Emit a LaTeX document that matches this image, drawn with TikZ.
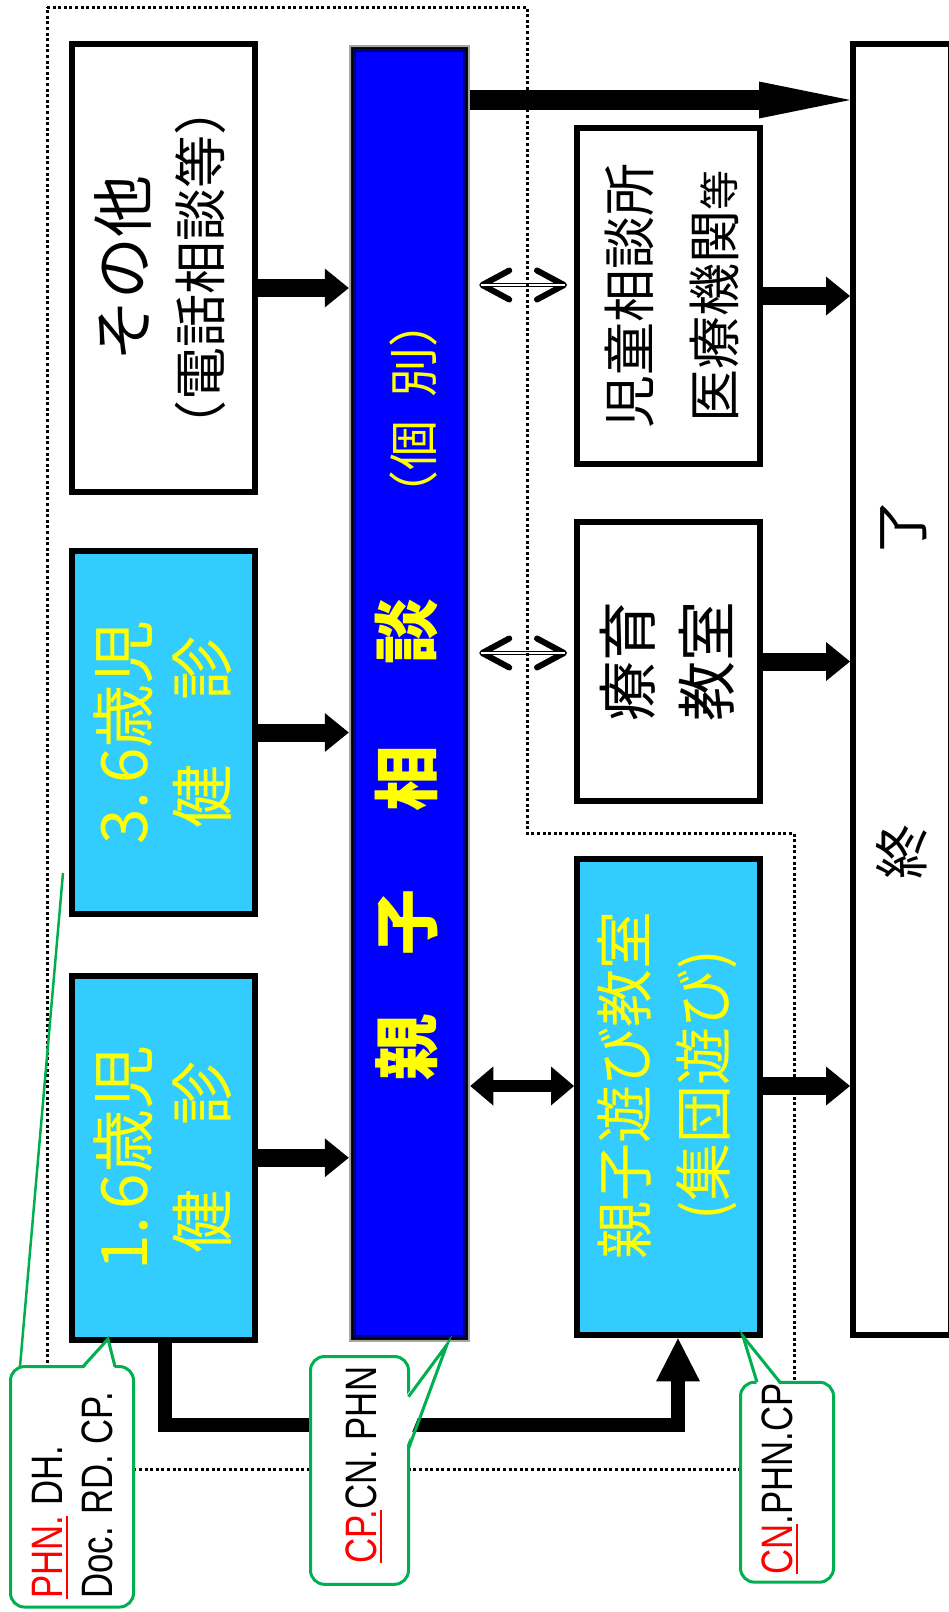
\documentclass[tikz,border=0pt]{standalone}
\usepackage{fontspec}
\usepackage{xcolor}
\usepackage{tikz}
\usetikzlibrary{positioning}
\usetikzlibrary{arrows.meta}

\newfontfamily\jpfont{Noto Sans CJK JP}
\newfontfamily\narrowfont[FakeStretch=0.79]{Liberation Sans}

\definecolor{skyfill}{HTML}{33CCFF}
\definecolor{oyakoblue}{HTML}{0000FF}
\definecolor{navyline}{HTML}{000080}
\definecolor{labelyellow}{HTML}{FFFF00}
\definecolor{calloutgreen}{HTML}{00B050}
\definecolor{markred}{HTML}{FF0000}

\newsavebox{\ulsave}
\newcommand{\ulred}[1]{\sbox{\ulsave}{\color{markred}#1}\rlap{\color{markred}\rule[-6pt]{\wd\ulsave}{2pt}}\usebox{\ulsave}}

\begin{document}
\begin{tikzpicture}[
    x=1pt, y=-1pt,
    box/.style={draw, line width=6pt, minimum width=183pt, fill=white},
    skybox/.style={box, fill=skyfill},
    vtext/.style={rotate=90, align=center, inner sep=0pt},
    fat/.style={line width=18pt, -{Triangle[length=24pt,width=39pt,line width=0pt]}},
    longfat/.style={line width=20pt, -{Triangle[length=91pt,width=37pt,line width=0pt]}},
    fatboth/.style={line width=12pt, {Triangle[length=23pt,width=39pt,line width=0pt]}-{Triangle[length=23pt,width=39pt,line width=0pt]}},
    elbow/.style={line width=14.5pt, -{Triangle[length=43pt,width=44pt,line width=0pt]}},
    barbs/.style={line width=1pt, shorten <=9pt, shorten >=7pt,
                  {Straight Barb[length=27pt,width=29pt,line width=6pt,round]}-{Straight Barb[length=27pt,width=29pt,line width=6pt,round]}},
    doubleshaft/.style={draw, line width=1pt, double, double distance=2.5pt, shorten <=11pt, shorten >=9pt},
    groupline/.style={line width=3pt, dash pattern=on 3pt off 2.6pt},
    callbox/.style={draw=calloutgreen, line width=3pt, rounded corners=14pt, fill=white},
    callline/.style={draw=calloutgreen, line width=3pt},
    calltext/.style={rotate=90, align=left, inner sep=0pt, font=\narrowfont\fontsize{44}{50}\selectfont}
  ]
    \useasboundingbox (0,0) rectangle (949,1612);

    % Colonne gauche : entrées
    \node[box, minimum height=448pt] (other) at (163.5,268) {};
    \node[skybox, minimum height=363pt, below=53pt of other] (check36) {};
    \node[skybox, minimum height=363.5pt, below=56pt of check36] (check16) {};

    % Colonne centrale : consultation
    \node[draw=gray!70, line width=2.5pt, fill=navyline, minimum width=119pt, minimum height=1295pt] (oyako) at (409.5,693.5) {};
    \draw[black, line width=1pt] ([shift={(3.5,3.5)}]oyako.north west) rectangle ([shift={(-3.5,-3.5)}]oyako.south east);
    \draw[black, line width=1pt, fill=oyakoblue] ([shift={(6.5,6.5)}]oyako.north west) rectangle ([shift={(-6.5,-6.5)}]oyako.south east);

    % Colonne droite : suites
    \node[box, minimum height=336pt] (jidou) at (668.5,296) {};
    \node[box, minimum height=279pt, below=52pt of jidou] (ryouiku) {};
    \node[skybox, minimum height=476.4pt, below=52pt of ryouiku] (asobi) {};

    % Fin
    \node[box, minimum width=98pt, minimum height=1291.4pt] (finish) at (902,689.7) {};

    % Textes
    \node[vtext, font=\jpfont\fontsize{53}{74}\selectfont] (othertxt) at ([xshift=-3pt]other.center)
      {{\fontsize{62}{74}\selectfont その他}\\（電話相談等）};
    \node[vtext, text=labelyellow, font=\jpfont\fontsize{64}{79}\selectfont] (check36txt) at ([xshift=-1pt]check36.center)
      {3.\hspace{0.12em}6歳児\\健　診};
    \node[vtext, text=labelyellow, font=\jpfont\fontsize{64}{79}\selectfont] (check16txt) at ([xshift=-1pt]check16.center)
      {1.\hspace{0.12em}6歳児\\健　診};
    \node[vtext, text=labelyellow, font=\jpfont\bfseries\fontsize{66}{66}\selectfont] (oyakotxt) at ([shift={(-2.5,145.5)}]oyako.center)
      {親\hspace{59pt}子\hspace{78pt}相\hspace{81pt}談};
    \node[vtext, text=labelyellow, font=\jpfont\fontsize{50}{50}\selectfont] (kobetsutxt) at ([shift={(3.5,-284.5)}]oyako.center)
      {（個\hspace{23pt}別）};
    \node[vtext, font=\jpfont\fontsize{53}{85}\selectfont] (jidoutxt) at ([xshift=3pt]jidou.center)
      {児童相談所\\医療機関{\fontsize{40}{85}\selectfont 等}};
    \node[vtext, font=\jpfont\fontsize{60}{79}\selectfont] (ryouikutxt) at ([xshift=-1pt]ryouiku.center)
      {療育\\教室};
    \node[vtext, text=labelyellow, font=\jpfont\fontsize{58}{79}\selectfont] (asobitxt) at ([shift={(-1,-12)}]asobi.center)
      {親子遊び教室\\(集団遊び)};
    \node[vtext, font=\jpfont\fontsize{55}{55}\selectfont] (finishtxt) at (finish.center)
      {終\hspace{270pt}了};

    % Rangées des flèches
    \coordinate (toprow) at (0,100);
    \coordinate (barbrow1) at (0,285);
    \coordinate (barbrow2) at (0,653);
    \coordinate (pairrow) at (0,1086);
    \coordinate (bendrow) at (0,1425);
    \coordinate (otherout) at ([yshift=-20pt]other.east);

    % Entrées -> consultation
    \draw[fat] (otherout) -- (otherout -| oyako.west);
    \draw[fat] (check36.east) -- (check36.east -| oyako.west);
    \draw[fat] (check16.east) -- (check16.east -| oyako.west);

    % Consultation <-> suites
    \draw[barbs] (oyako.east |- barbrow1) -- (jidou.west |- barbrow1);
    \draw[doubleshaft] (oyako.east |- barbrow1) -- (jidou.west |- barbrow1);
    \draw[barbs] (oyako.east |- barbrow2) -- (ryouiku.west |- barbrow2);
    \draw[doubleshaft] (oyako.east |- barbrow2) -- (ryouiku.west |- barbrow2);
    \draw[fatboth] (oyako.east |- pairrow) -- (asobi.west |- pairrow);

    % Vers la fin
    \draw[longfat] (oyako.east |- toprow) -- (finish.west |- toprow);
    \draw[fat] (jidou.east) -- (jidou.east -| finish.west);
    \draw[fat] (ryouiku.east) -- (ryouiku.east -| finish.west);
    \draw[fat] (asobi.east |- pairrow) -- (finish.west |- pairrow);

    % 1.6 -> jeux en groupe
    \coordinate (elbowstart) at ([xshift=1.5pt]check16.south);
    \coordinate (elbowend) at ([xshift=9.5pt]asobi.south);
    \draw[elbow] (elbowstart) -- (elbowstart |- bendrow) -| (elbowend);

    % Cadre pointillé
    \draw[groupline] (47,7) -- (527,7) -- (527,833) -- (794,833) -- (794,1469.5) -- (47,1469.5) -- cycle;

    % Bulles
    \node[callbox, minimum width=123pt, minimum height=240.5pt] (phn) at (72,1486.8) {};
    \node[callbox, minimum width=98pt, minimum height=227.8pt] (cpbox) at (359.5,1470.4) {};
    \node[callbox, minimum width=93pt, minimum height=199.9pt] (cnbox) at (787,1482.2) {};

    \coordinate (phntip) at (108,1339);
    \coordinate (phnfar) at (63,873);
    \coordinate (cptip) at (447,1344.6);
    \coordinate (cntip) at (743,1336.3);

    \fill[white] ([shift={(11,4.5)}]phn.north) -- (phntip) -- ([shift={(43,4.5)}]phn.north) -- cycle;
    \draw[callline] ([shift={(11,1.5)}]phn.north) -- (phntip) -- ([shift={(43,1.5)}]phn.north);
    \draw[callline, line width=2.5pt] ([shift={(-52,1.5)}]phn.north) -- (phnfar);

    \fill[white] ([shift={(-4.5,-73.8)}]cpbox.east) -- (cptip) -- ([shift={(-4.5,-21.8)}]cpbox.east) -- cycle;
    \draw[callline] ([shift={(-1.5,-73.8)}]cpbox.east) -- (cptip) -- ([shift={(-1.5,-21.8)}]cpbox.east);

    \fill[white] ([shift={(-30,4.5)}]cnbox.north) -- (cntip) -- ([shift={(-7,4.5)}]cnbox.north) -- cycle;
    \draw[callline] ([shift={(-30,1.5)}]cnbox.north) -- (cntip) -- ([shift={(-7,1.5)}]cnbox.north);

    \node[calltext] (phntxt) at (72.5,1495) {\ulred{PHN.} DH.\\Doc. RD. CP.};
    \node[calltext] (cptxt) at (364,1465) {\ulred{CP.}CN. PHN};
    \node[calltext] (cntxt) at (780,1478.7) {\ulred{CN}.PHN.CP};

  \end{tikzpicture}
\end{document}
